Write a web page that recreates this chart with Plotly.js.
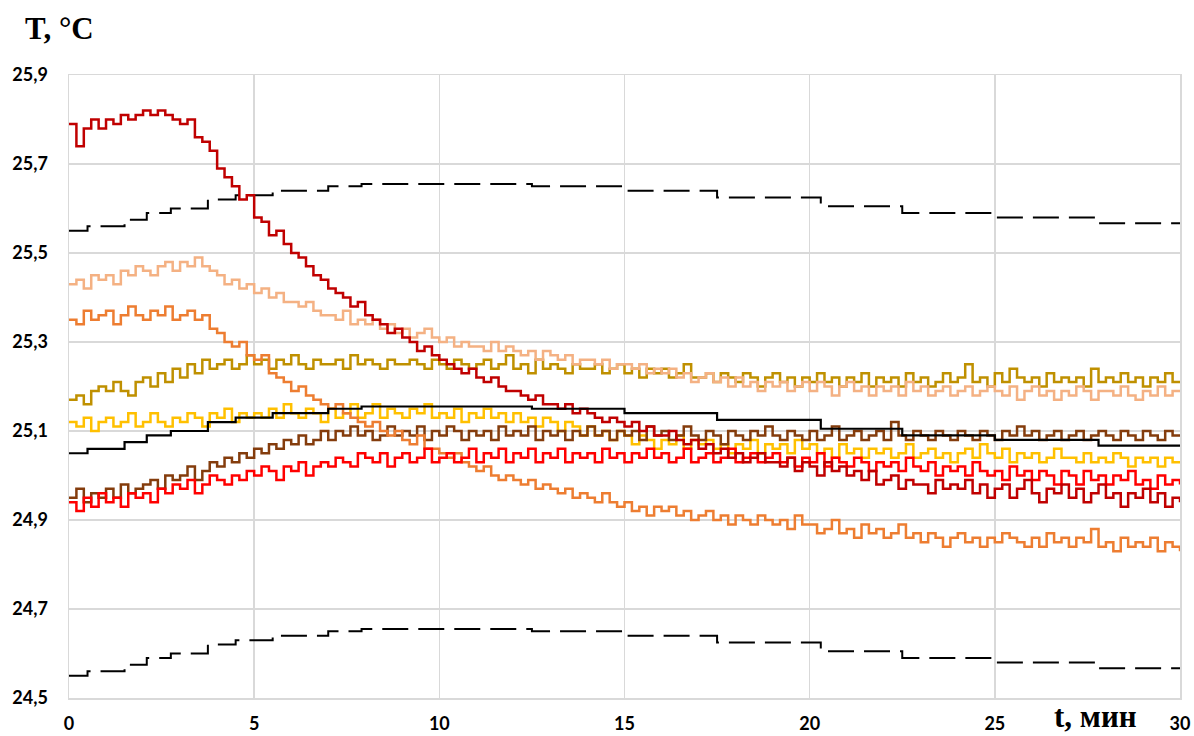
<!DOCTYPE html>
<html>
<head>
<meta charset="utf-8">
<script src="https://cdn.plot.ly/plotly-3.0.1.min.js"></script>
<style>html,body{margin:0;padding:0;background:#fff;}#chart{width:1194px;height:736px;}</style>
</head>
<body>
<div id="chart"></div>
<script>
// sampling step of the noisy records, minutes
const STEP = 0.2;

const darkRed = [
25.79,25.74,25.78,25.80,25.78, 25.80,25.79,25.81,25.80,25.81, 25.82,25.81,25.82,25.81,25.80, 25.79,25.80,25.76,25.75,25.73,
25.69,25.67,25.65,25.62,25.63, 25.58,25.57,25.54,25.55,25.52, 25.50,25.49,25.47,25.45,25.44, 25.42,25.41,25.40,25.38,25.39,
25.36,25.35,25.34,25.32,25.33, 25.31,25.30,25.28,25.29,25.27, 25.26,25.25,25.24,25.23,25.24, 25.22,25.21,25.22,25.20,25.19,
25.19,25.18,25.17,25.18,25.16, 25.16,25.15,25.16,25.14,25.15, 25.14,25.13,25.12,25.13,25.12, 25.11,25.12,25.10,25.11,25.09,
25.09,25.10,25.08,25.07,25.08, 25.06,25.07,25.05,25.06,25.04, 25.05,25.03,25.04,25.05,25.03, 25.03,25.02,25.04,25.01,25.03,
25.02,25.00,25.03,25.01,25.02, 25.00,25.01,24.99,25.01,24.98, 24.99,25.00,24.97,24.99,24.98, 24.98,24.96,24.99,24.97,24.98,
24.97,24.99,24.96,24.98,24.95, 24.97,24.98,24.95,24.97,24.99, 24.96,24.94,24.97,24.96,24.98, 24.95,24.97,24.94,24.96,24.98,
24.95,24.96,24.93,24.96,24.95, 24.97,24.94,24.96,24.93,24.95, 24.94];

const salmon = [
25.43,25.44,25.42,25.45,25.44, 25.45,25.43,25.46,25.45,25.47, 25.46,25.45,25.47,25.48,25.46, 25.48,25.47,25.49,25.47,25.46,
25.45,25.43,25.44,25.42,25.43, 25.41,25.42,25.40,25.41,25.39, 25.39,25.38,25.39,25.37,25.36, 25.36,25.35,25.37,25.34,25.35,
25.34,25.35,25.33,25.34,25.32, 25.33,25.31,25.32,25.33,25.31, 25.30,25.31,25.29,25.30,25.29, 25.29,25.28,25.30,25.28,25.29,
25.28,25.27,25.28,25.26,25.28, 25.27,25.26,25.27,25.25,25.26, 25.26,25.25,25.26,25.24,25.25, 25.25,25.24,25.25,25.23,25.24,
25.23,25.24,25.22,25.23,25.21, 25.22,25.23,25.21,25.22,25.20, 25.22,25.20,25.21,25.19,25.21, 25.20,25.21,25.19,25.20,25.21,
25.19,25.21,25.20,25.18,25.20, 25.21,25.19,25.20,25.18,25.20, 25.19,25.20,25.18,25.21,25.19, 25.20,25.18,25.19,25.20,25.18,
25.19,25.20,25.18,25.19,25.20, 25.19,25.18,25.20,25.17,25.19, 25.20,25.18,25.19,25.17,25.19, 25.18,25.20,25.19,25.17,25.19,
25.19,25.18,25.20,25.18,25.17, 25.19,25.18,25.20,25.18,25.19, 25.19];

const darkGold = [
25.17,25.18,25.16,25.19,25.20, 25.19,25.21,25.19,25.18,25.21, 25.22,25.20,25.23,25.21,25.24, 25.22,25.25,25.23,25.26,25.24,
25.25,25.26,25.24,25.25,25.27, 25.25,25.26,25.24,25.26,25.25, 25.27,25.25,25.24,25.26,25.25, 25.25,25.26,25.24,25.27,25.25,
25.26,25.25,25.24,25.26,25.25, 25.25,25.26,25.25,25.24,25.26, 25.25,25.24,25.26,25.25,25.24, 25.25,25.26,25.24,25.25,25.27,
25.24,25.25,25.23,25.26,25.24, 25.25,25.24,25.23,25.25,25.24, 25.24,25.25,25.23,25.24,25.25, 25.23,25.24,25.22,25.24,25.23,
25.24,25.22,25.23,25.25,25.22, 25.22,25.23,25.21,25.23,25.22, 25.21,25.23,25.22,25.20,25.22, 25.23,25.21,25.22,25.20,25.22,
25.21,25.23,25.21,25.22,25.20, 25.22,25.21,25.23,25.20,25.22, 25.21,25.22,25.20,25.23,25.21, 25.22,25.20,25.21,25.23,25.21,
25.22,25.25,25.21,25.22,25.20, 25.23,25.21,25.24,25.22,25.21, 25.22,25.20,25.23,25.21,25.22, 25.21,25.22,25.20,25.24,25.21,
25.22,25.21,25.23,25.21,25.22, 25.20,25.22,25.21,25.23,25.21, 25.21];

const orange = [
25.35,25.34,25.37,25.35,25.36, 25.37,25.34,25.36,25.38,25.36, 25.35,25.37,25.36,25.38,25.35, 25.36,25.37,25.35,25.36,25.33,
25.32,25.30,25.29,25.30,25.27, 25.26,25.27,25.23,25.22,25.21, 25.19,25.20,25.18,25.17,25.16, 25.15,25.16,25.14,25.13,25.12,
25.11,25.12,25.10,25.09,25.10, 25.08,25.07,25.09,25.06,25.06, 25.05,25.04,25.05,25.03,25.02, 25.01,25.02,25.00,24.99,25.00,
24.99,24.98,24.99,24.97,24.98, 24.97,24.96,24.97,24.95,24.96, 24.95,24.94,24.96,24.94,24.93, 24.94,24.92,24.93,24.91,24.93,
24.92,24.93,24.91,24.92,24.90, 24.91,24.92,24.90,24.91,24.89, 24.91,24.90,24.89,24.91,24.90, 24.89,24.90,24.88,24.91,24.89,
24.89,24.87,24.88,24.90,24.87, 24.88,24.86,24.89,24.87,24.88, 24.86,24.87,24.89,24.86,24.87, 24.85,24.87,24.86,24.84,24.86,
24.87,24.85,24.86,24.84,24.86, 24.85,24.87,24.86,24.85,24.84, 24.86,24.84,24.87,24.85,24.86, 24.84,24.86,24.85,24.88,24.84,
24.85,24.83,24.86,24.84,24.85, 24.84,24.86,24.83,24.85,24.84, 24.83];

const yellow = [
25.12,25.11,25.13,25.10,25.12, 25.13,25.11,25.12,25.14,25.11, 25.12,25.14,25.12,25.11,25.13, 25.12,25.14,25.13,25.11,25.14,
25.13,25.15,25.12,25.14,25.13, 25.14,25.13,25.15,25.13,25.16, 25.14,25.13,25.15,25.14,25.12, 25.15,25.13,25.14,25.16,25.13,
25.14,25.16,25.13,25.15,25.14, 25.13,25.15,25.14,25.16,25.13, 25.14,25.13,25.15,25.12,25.14, 25.13,25.15,25.13,25.14,25.12,
25.14,25.12,25.13,25.11,25.13, 25.12,25.10,25.12,25.11,25.09, 25.11,25.09,25.10,25.08,25.10, 25.09,25.07,25.09,25.08,25.06,
25.08,25.07,25.09,25.06,25.08, 25.07,25.08,25.06,25.07,25.05, 25.07,25.06,25.08,25.05,25.07, 25.06,25.07,25.05,25.08,25.06,
25.07,25.05,25.06,25.04,25.07, 25.05,25.06,25.04,25.06,25.05, 25.06,25.04,25.05,25.07,25.04, 25.05,25.06,25.04,25.05,25.03,
25.05,25.06,25.04,25.07,25.05, 25.04,25.06,25.03,25.05,25.04, 25.05,25.03,25.04,25.06,25.04, 25.04,25.03,25.05,25.03,25.04,
25.03,25.05,25.04,25.02,25.04, 25.03,25.04,25.02,25.04,25.03, 25.03];

const brown = [
24.95,24.97,24.94,24.96,24.95, 24.97,24.95,24.98,24.96,24.97, 24.98,24.99,24.97,25.00,24.99, 25.00,25.02,24.99,25.01,25.03,
25.02,25.04,25.03,25.05,25.04, 25.06,25.05,25.07,25.06,25.08, 25.07,25.09,25.07,25.08,25.10, 25.08,25.10,25.09,25.11,25.09,
25.10,25.08,25.09,25.11,25.09, 25.10,25.09,25.11,25.08,25.10, 25.09,25.11,25.10,25.08,25.10, 25.09,25.10,25.08,25.11,25.09,
25.10,25.09,25.11,25.08,25.10, 25.09,25.10,25.08,25.10,25.09, 25.11,25.09,25.10,25.08,25.10, 25.09,25.10,25.08,25.11,25.09,
25.10,25.08,25.09,25.11,25.09, 25.08,25.10,25.09,25.07,25.10, 25.09,25.08,25.10,25.09,25.11, 25.09,25.08,25.10,25.09,25.08,
25.10,25.08,25.09,25.11,25.08, 25.09,25.10,25.08,25.09,25.10, 25.08,25.12,25.09,25.08,25.10, 25.09,25.08,25.10,25.09,25.08,
25.10,25.09,25.08,25.10,25.09, 25.08,25.10,25.09,25.11,25.09, 25.10,25.08,25.09,25.10,25.08, 25.09,25.10,25.08,25.09,25.10,
25.09,25.08,25.10,25.09,25.08, 25.10,25.09,25.08,25.10,25.09, 25.09];

const red = [
24.94,24.92,24.95,24.93,24.96, 24.94,24.95,24.93,24.96,24.95, 24.96,24.94,24.97,24.96,24.98, 24.97,24.99,24.96,24.98,25.00,
24.99,24.98,25.00,24.99,25.01, 25.00,25.02,25.01,24.99,25.02, 25.01,25.03,25.00,25.02,25.03, 25.02,25.04,25.03,25.02,25.05,
25.04,25.03,25.05,25.02,25.04, 25.05,25.03,25.04,25.06,25.03, 25.04,25.05,25.03,25.04,25.06, 25.03,25.05,25.04,25.06,25.03,
25.05,25.04,25.06,25.03,25.05, 25.04,25.06,25.03,25.05,25.04, 25.05,25.03,25.06,25.04,25.05, 25.03,25.05,25.04,25.06,25.04,
25.05,25.03,25.04,25.06,25.03, 25.04,25.05,25.03,25.04,25.06, 25.03,25.04,25.05,25.03,25.04, 25.05,25.03,25.04,25.02,25.04,
25.03,25.05,25.02,25.04,25.03, 25.02,25.04,25.03,25.01,25.03, 25.02,25.03,25.01,25.04,25.02, 25.01,25.03,25.00,25.02,25.01,
25.02,25.00,25.03,25.01,25.00, 25.01,24.99,25.02,25.00,25.01, 24.99,25.01,25.00,24.98,25.01, 25.00,24.98,25.01,24.99,25.00,
24.98,25.00,24.99,25.01,24.98, 24.99,24.97,25.00,24.98,24.99, 24.98];

// mean curve (step line) and its +/-0.5 bounds
const meanT  = [0, 0.5, 1.5, 2.1, 2.75, 3.75, 4.5, 5.5, 7, 7.9, 12.5, 15, 17.5, 20.3, 22.5, 25, 27.8, 30];
const meanV  = [25.05, 25.06, 25.075, 25.09, 25.10, 25.12, 25.13, 25.14, 25.15, 25.155, 25.15, 25.14, 25.125, 25.105, 25.09, 25.08, 25.067, 25.067];
const upperV = [25.55, 25.56, 25.575, 25.59, 25.60, 25.62, 25.63, 25.64, 25.65, 25.655, 25.65, 25.64, 25.625, 25.605, 25.59, 25.58, 25.567, 25.567];
const lowerV = [24.55, 24.56, 24.575, 24.59, 24.60, 24.62, 24.63, 24.64, 24.65, 24.655, 24.65, 24.64, 24.625, 24.605, 24.59, 24.58, 24.567, 24.567];

const xTicks = [0, 5, 10, 15, 20, 25, 30];
const yTicks = [24.5, 24.7, 24.9, 25.1, 25.3, 25.5, 25.7, 25.9];

const t = darkRed.map((_, i) => +(i * STEP).toFixed(2));

function noisy(y, color) {
  return {x: t, y: y, type: 'scatter', mode: 'lines', line: {color: color, width: 2.5, shape: 'hv'}, hoverinfo: 'skip'};
}
function stepLine(y, dash, w) {
  return {x: meanT, y: y, type: 'scatter', mode: 'lines', line: {color: '#000000', width: w, shape: 'hv', dash: dash}, hoverinfo: 'skip'};
}

const traces = [
  stepLine(upperV, '26px,10px', 2),
  stepLine(lowerV, '26px,10px', 2),
  noisy(yellow, '#FFC000'),
  noisy(brown, '#843C0C'),
  noisy(darkGold, '#BF9000'),
  noisy(salmon, '#F4B183'),
  noisy(orange, '#ED7D31'),
  noisy(red, '#FF0000'),
  noisy(darkRed, '#C00000'),
  stepLine(meanV, 'solid', 2.2)
];

const tickFont = {family: 'Lato, "Open Sans", sans-serif', size: 18, color: '#000', weight: 'bold'};
const titleFont = {family: '"Liberation Serif", "Times New Roman", serif', size: 31, color: '#000', weight: 'bold'};

const layout = {
  width: 1194, height: 736,
  margin: {l: 69, r: 14, t: 75, b: 38},
  paper_bgcolor: '#ffffff', plot_bgcolor: '#ffffff',
  showlegend: false,
  separators: ', ',
  xaxis: {
    range: [0, 30], tickvals: xTicks, ticktext: xTicks.map(String),
    showgrid: true, gridcolor: '#d9d9d9', gridwidth: 1.5,
    zeroline: false, showline: true, linecolor: '#d9d9d9', linewidth: 1.5, mirror: true,
    ticks: '', tickfont: tickFont, ticklabelstandoff: 9
  },
  yaxis: {
    range: [24.5, 25.9], tickvals: yTicks, ticktext: yTicks.map(v => v.toFixed(1).replace('.', ',')),
    showgrid: true, gridcolor: '#d9d9d9', gridwidth: 1.5,
    zeroline: false, showline: true, linecolor: '#d9d9d9', linewidth: 1.5, mirror: true,
    ticks: '', tickfont: tickFont, ticklabelstandoff: 16
  },
  annotations: [
    {text: 'T, °C', xref: 'paper', yref: 'paper', x: -0.0414, y: 1.0754, xanchor: 'left', yanchor: 'middle', showarrow: false, font: titleFont},
    {text: 't, мин', xref: 'paper', yref: 'paper', x: 0.9235, y: -0.029, xanchor: 'center', yanchor: 'middle', showarrow: false, font: titleFont}
  ]
};

Plotly.newPlot('chart', traces, layout, {displayModeBar: false, staticPlot: true});
</script>
</body>
</html>
